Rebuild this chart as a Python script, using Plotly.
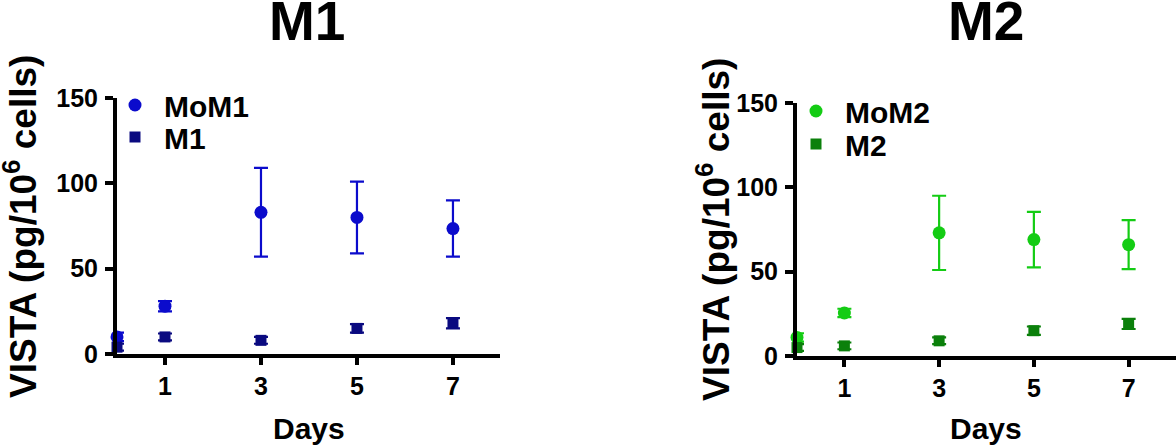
import plotly.graph_objects as go

days = [0, 1, 3, 5, 7]
tick_vals = [1, 3, 5, 7]
tick_text = ["1", "3", "5", "7"]
y_ticks = [0, 50, 100, 150]

mom1 = [10, 28, 83, 80, 73.5]
mom1_err = [2.5, 3, 26, 21, 16.5]
m1 = [4, 10, 8, 15, 18]
m1_err = [2, 2, 2, 2.5, 3]

mom2 = [11, 25.5, 73, 69, 66]
mom2_err = [2.5, 2.5, 22, 16.5, 14.5]
m2 = [5, 6, 9, 15, 19]
m2_err = [2, 2, 2, 2.5, 3]

C_MOM1 = "#0b0bcc"
C_M1 = "#0a0a80"
C_MOM2 = "#14cc14"
C_M2 = "#0b800b"

W, H = 1176, 447
FONT = "Liberation Sans"

def px(x):
    return x / W

def py(y):
    return (H - y) / H

fig = go.Figure()

def add(x, y, err, color, symbol, size, name, xa, ya, legend):
    fig.add_trace(go.Scatter(
        x=x, y=y, mode="markers", name=name,
        marker=dict(color=color, symbol=symbol, size=size),
        error_y=dict(type="data", array=err, visible=True, color=color,
                     thickness=2.2, width=7),
        xaxis=xa, yaxis=ya, legend=legend, cliponaxis=False,
    ))

add(days, mom1, mom1_err, C_MOM1, "circle", 13, "MoM1", "x", "y", "legend")
add(days, m1, m1_err, C_M1, "square", 11, "M1", "x", "y", "legend2")
add(days, mom2, mom2_err, C_MOM2, "circle", 13, "MoM2", "x2", "y2", "legend3")
add(days, m2, m2_err, C_M2, "square", 11, "M2", "x2", "y2", "legend4")

tickfont = dict(family=FONT, size=25, color="black", weight="bold")
xcommon = dict(showgrid=False, zeroline=False, showline=True, linecolor="black",
               linewidth=4, ticks="outside", ticklen=7, tickwidth=4,
               tickcolor="black", tickvals=tick_vals, ticktext=tick_text,
               tickfont=tickfont, ticklabelstandoff=0, fixedrange=True,
               automargin=False)
ycommon = dict(showgrid=False, zeroline=False, showline=True, linecolor="black",
               linewidth=4, ticks="outside", ticklen=8, tickwidth=4,
               tickcolor="black", tickvals=y_ticks, range=[0, 150],
               tickfont=tickfont, ticklabelstandoff=2, fixedrange=True,
               automargin=False)

legfont = dict(family=FONT, size=30, color="black", weight="bold")

def leg(xpix, ypix):
    return dict(x=px(xpix), y=py(ypix), xanchor="left", yanchor="top",
                bgcolor="rgba(0,0,0,0)", font=legfont, tracegroupgap=0,
                itemsizing="trace", itemwidth=48)

fig.update_layout(
    width=W, height=H,
    autosize=False,
    margin=dict(l=0, r=0, t=0, b=0, pad=0, autoexpand=False),
    paper_bgcolor="white", plot_bgcolor="white",
    showlegend=True,
    xaxis=dict(domain=[px(117), px(500)], range=[0, 7.98], anchor="y", **xcommon),
    yaxis=dict(domain=[py(354), py(98)], anchor="x", **ycommon),
    xaxis2=dict(domain=[px(797), 1.0], range=[0, 8.0], anchor="y2", **xcommon),
    yaxis2=dict(domain=[py(356), py(103)], anchor="x2", **ycommon),
    legend=leg(106, 79),
    legend2=leg(106, 111),
    legend3=leg(787, 85),
    legend4=leg(787, 118),
)

ann_font_title = dict(family=FONT, size=55, color="black", weight="bold")
ann_font_axis = dict(family=FONT, size=30, color="black", weight="bold")
ann_font_ytitle = dict(family=FONT, size=37, color="black", weight="bold")

annotations = [
    dict(text="M1", x=px(307), y=py(21), font=ann_font_title),
    dict(text="M2", x=px(986), y=py(21), font=ann_font_title),
    dict(text="Days", x=px(309), y=py(428), font=ann_font_axis),
    dict(text="Days", x=px(986), y=py(428), font=ann_font_axis),
    dict(text="VISTA (pg/10<sup>6</sup> cells)", x=px(20), y=py(227),
         font=ann_font_ytitle, textangle=-90),
    dict(text="VISTA (pg/10<sup>6</sup> cells)", x=px(713), y=py(230),
         font=ann_font_ytitle, textangle=-90),
]
for a in annotations:
    fig.add_annotation(xref="paper", yref="paper", showarrow=False,
                       xanchor="center", yanchor="middle", **a)

fig.write_html("out.html", config={"displayModeBar": False},
               post_script="document.body.style.margin='0px';")
